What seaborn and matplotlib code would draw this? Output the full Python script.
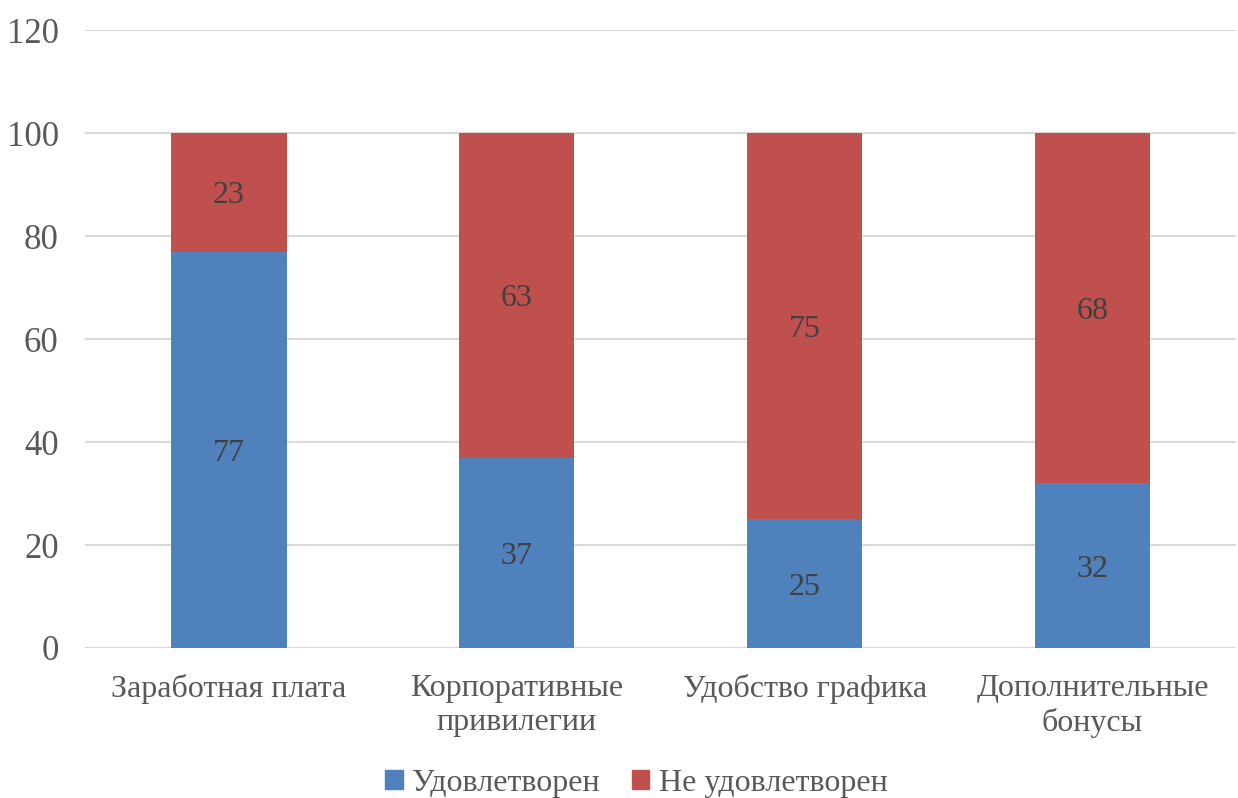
import pandas as pd
import seaborn as sns
import matplotlib.pyplot as plt
from matplotlib.patches import Patch

categories = ["Заработная плата", "Корпоративные\nпривилегии", "Удобство графика", "Дополнительные\nбонусы"]
satisfied = [77, 37, 25, 32]
not_satisfied = [23, 63, 75, 68]

BLUE = "#4F81BD"
RED = "#C0504D"
TEXT = "#595959"

sns.set_theme(style="white")
plt.rcParams["font.family"] = ["Liberation Serif", "DejaVu Serif"]

df = pd.DataFrame({"category": categories, "satisfied": satisfied, "not_satisfied": not_satisfied})
df["total"] = df["satisfied"] + df["not_satisfied"]

fig = plt.figure(figsize=(12.38, 7.98), dpi=100)
ax = fig.add_axes([0.0687, 0.188, 0.93, 0.774])

sns.barplot(data=df, x="category", y="total", color=RED, width=0.4, saturation=1, linewidth=0, ax=ax, zorder=2)
sns.barplot(data=df, x="category", y="satisfied", color=BLUE, width=0.4, saturation=1, linewidth=0, ax=ax, zorder=3)

# value labels centred in each segment
for i, row in df.iterrows():
    ax.text(i, row["satisfied"] / 2, str(row["satisfied"]), ha="center", va="center_baseline",
            fontsize=23, color="#404040", zorder=4)
    ax.text(i, row["satisfied"] + row["not_satisfied"] / 2, str(row["not_satisfied"]), ha="center",
            va="center_baseline", fontsize=23, color="#404040", zorder=4)

ax.set_ylim(0, 120)
ax.set_yticks(range(0, 121, 20))
ax.set_xlim(-0.5, 3.5)
ax.yaxis.grid(True, color="#D9D9D9", linewidth=1.5, zorder=0)
ax.set_axisbelow(True)
for s in ax.spines.values():
    s.set_visible(False)
ax.axhline(0, color="#D9D9D9", linewidth=1.5, zorder=1)
ax.set_xlabel("")
ax.set_ylabel("")
ax.tick_params(axis="y", labelsize=25, colors=TEXT, length=0, pad=19)
ax.tick_params(axis="x", labelsize=23, colors=TEXT, length=0, pad=19)
for lbl in ax.get_xticklabels():
    lbl.set_linespacing(1.2)

handles = [Patch(color=BLUE, label="Удовлетворен"), Patch(color=RED, label="Не удовлетворен")]
fig.legend(handles=handles, loc="lower center", bbox_to_anchor=(0.514, -0.036), ncol=2, frameon=False,
           fontsize=23, labelcolor=TEXT, handlelength=0.55, handleheight=0.55, handletextpad=0.3,
           columnspacing=1.0)

fig.savefig("out.png", dpi=100)
